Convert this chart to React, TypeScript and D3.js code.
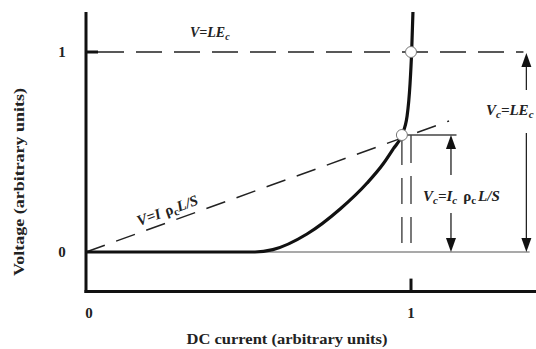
import React from "react";
import * as d3 from "d3";

// Data (arbitrary units)
const currentI = [0, 0.52, 0.575, 0.68, 0.782, 0.865, 0.914, 0.945, 0.972, 0.988, 0.997, 1.002, 1.006];
const voltageV = [0, 0, 0.012, 0.09, 0.215, 0.345, 0.44, 0.515, 0.585, 0.68, 0.84, 1.0, 1.2];
const ohmicI = [0, 1.117];
const ohmicV = [0, 0.655];
const xTicks = [0, 1];
const yTicks = [0, 1];
const criticalPoints = [
  { i: 1.0, v: 1.0 },
  { i: 0.972, v: 0.585 },
];

const W = 536;
const H = 349;
const FONT = "'Liberation Serif', 'Times New Roman', serif";

export default function App() {
  const x = d3.scaleLinear().domain([0, 1]).range([86, 411]);
  const y = d3.scaleLinear().domain([0, 1]).range([252, 52]);

  const xMax = 1.385, yMin = -0.198, yMax = 1.2;

  const curvePts: [number, number][] = currentI.map((c, k) => [c, voltageV[k]]);
  const curveLine = d3
    .line<[number, number]>()
    .x((d) => x(d[0]))
    .y((d) => y(d[1]))
    .curve(d3.curveMonotoneX);

  const ohmicPts: [number, number][] = ohmicI.map((c, k) => [c, ohmicV[k]]);
  const straight = d3.line<[number, number]>().x((d) => x(d[0])).y((d) => y(d[1]));

  const vc = criticalPoints[1].v;
  const ic = criticalPoints[1].i;
  const outerArrowX = x(1.355);
  const innerArrowX = x(1.123);

  const arrowUp = (cx: number, tipY: number) =>
    `M${cx},${tipY} L${cx - 5},${tipY + 14} L${cx + 5},${tipY + 14} Z`;
  const arrowDown = (cx: number, tipY: number) =>
    `M${cx},${tipY} L${cx - 5},${tipY - 14} L${cx + 5},${tipY - 14} Z`;

  const ang = (Math.atan2(y(0) - y(ohmicV[1]), x(ohmicI[1]) - x(0)) * 180) / Math.PI;

  return (
    <svg
      width={W}
      height={H}
      style={{ position: "absolute", left: 0, top: 0, background: "#fff" }}
      fontFamily={FONT}
    >
      {/* baseline V=0 */}
      <line x1={x(0)} x2={x(1.365)} y1={y(0)} y2={y(0)} stroke="#555" strokeWidth={1.2} />
      {/* V = L Ec dashed */}
      <line
        x1={x(0)}
        x2={x(1.346)}
        y1={y(1)}
        y2={y(1)}
        stroke="#222"
        strokeWidth={1.6}
        strokeDasharray="26,12"
        strokeDashoffset={-12}
      />
      {/* ohmic dashed line */}
      <path d={straight(ohmicPts) || ""} fill="none" stroke="#222" strokeWidth={1.5} strokeDasharray="20,12" />
      {/* vertical dashed lines at Ic */}
      <line x1={x(ic)} x2={x(ic)} y1={y(vc) + 4} y2={y(0) - 9} stroke="#333" strokeWidth={1.3} strokeDasharray="26,13" />
      <line x1={x(1.0)} x2={x(1.0)} y1={y(vc)} y2={y(0) - 9} stroke="#333" strokeWidth={1.3} strokeDasharray="28,13" />
      {/* horizontal Vc line */}
      <line x1={x(ic) + 2} x2={x(1.14)} y1={y(vc)} y2={y(vc)} stroke="#444" strokeWidth={1.3} />

      {/* outer arrow Vc=LEc */}
      <line x1={outerArrowX} x2={outerArrowX} y1={y(1) + 14} y2={y(1) + 38} stroke="#222" strokeWidth={1.3} />
      <line x1={outerArrowX} x2={outerArrowX} y1={y(1) + 81} y2={y(0) - 14} stroke="#222" strokeWidth={1.3} />
      <path d={arrowUp(outerArrowX, y(1) + 1)} fill="#111" />
      <path d={arrowDown(outerArrowX, y(0))} fill="#111" />

      {/* inner arrow Vc=Ic rho L/S */}
      <line x1={innerArrowX} x2={innerArrowX} y1={y(vc) + 14} y2={y(vc) + 40} stroke="#222" strokeWidth={1.3} />
      <line x1={innerArrowX} x2={innerArrowX} y1={y(vc) + 78} y2={y(0) - 14} stroke="#222" strokeWidth={1.3} />
      <path d={arrowUp(innerArrowX, y(vc))} fill="#111" />
      <path d={arrowDown(innerArrowX, y(0))} fill="#111" />

      {/* axes */}
      <line x1={x(0)} x2={x(0)} y1={y(yMax)} y2={y(yMin) + 1.5} stroke="#111" strokeWidth={3} />
      <line x1={x(0) - 1.5} x2={x(xMax)} y1={y(yMin)} y2={y(yMin)} stroke="#111" strokeWidth={3} />
      {/* ticks */}
      <line x1={x(0)} x2={x(0) + 12} y1={y(1)} y2={y(1)} stroke="#111" strokeWidth={3} />
      <line x1={x(1)} x2={x(1)} y1={y(yMin)} y2={y(yMin) - 13} stroke="#111" strokeWidth={3} />

      {/* E-I curve */}
      <path d={curveLine(curvePts) || ""} fill="none" stroke="#111" strokeWidth={3.2} />

      {/* critical points */}
      {criticalPoints.map((p, k) => (
        <circle key={k} cx={x(p.i)} cy={y(p.v)} r={5.5} fill="#fff" stroke="#777" strokeWidth={1} />
      ))}

      {/* tick labels */}
      {yTicks.map((t) => (
        <text key={"y" + t} x={62} y={y(t) + 5} fontSize={15} fontWeight="bold" textAnchor="middle" fill="#222">
          {t}
        </text>
      ))}
      {xTicks.map((t) => (
        <text key={"x" + t} x={x(t) + (t === 0 ? 3 : 0)} y={318} fontSize={15} fontWeight="bold" textAnchor="middle" fill="#222">
          {t}
        </text>
      ))}

      {/* axis titles */}
      <text x={287} y={344} fontSize={15} fontWeight="bold" textAnchor="middle" fill="#222" textLength={201} lengthAdjust="spacingAndGlyphs">
        DC current (arbitrary units)
      </text>
      <text
        transform="translate(24,182) rotate(-90)"
        fontSize={14}
        fontWeight="bold"
        textAnchor="middle"
        fill="#222"
        textLength={188}
        lengthAdjust="spacingAndGlyphs"
      >
        Voltage (arbitrary units)
      </text>

      {/* annotations */}
      <text x={190} y={37} fontSize={14} fontWeight="bold" fontStyle="italic" fill="#222">
        V=LE<tspan fontSize={10} dy={3}>c</tspan>
      </text>
      <text x={486} y={115} fontSize={15} fontWeight="bold" fontStyle="italic" fill="#222">
        V<tspan fontSize={11} dy={3}>c</tspan>
        <tspan dy={-3}>=LE</tspan>
        <tspan fontSize={11} dy={3}>c</tspan>
      </text>
      <text x={423} y={201} fontSize={15} fontWeight="bold" fontStyle="italic" fill="#222">
        V<tspan fontSize={11} dy={3}>c</tspan>
        <tspan dy={-3}>=I</tspan>
        <tspan fontSize={11} dy={3}>c</tspan>
        <tspan dy={-3} dx={6} fontStyle="normal">ρ</tspan>
        <tspan fontSize={11} dy={3} fontStyle="normal">c</tspan>
        <tspan dy={-3} dx={2}>L/S</tspan>
      </text>
      <text
        transform={`translate(139,226) rotate(${-ang})`}
        fontSize={15}
        fontWeight="bold"
        fontStyle="italic"
        fill="#222"
      >
        V=I<tspan dx={5} fontStyle="normal">ρ</tspan>
        <tspan fontSize={11} dy={3} fontStyle="normal">c</tspan>
        <tspan dy={-3}>L/S</tspan>
      </text>
    </svg>
  );
}
